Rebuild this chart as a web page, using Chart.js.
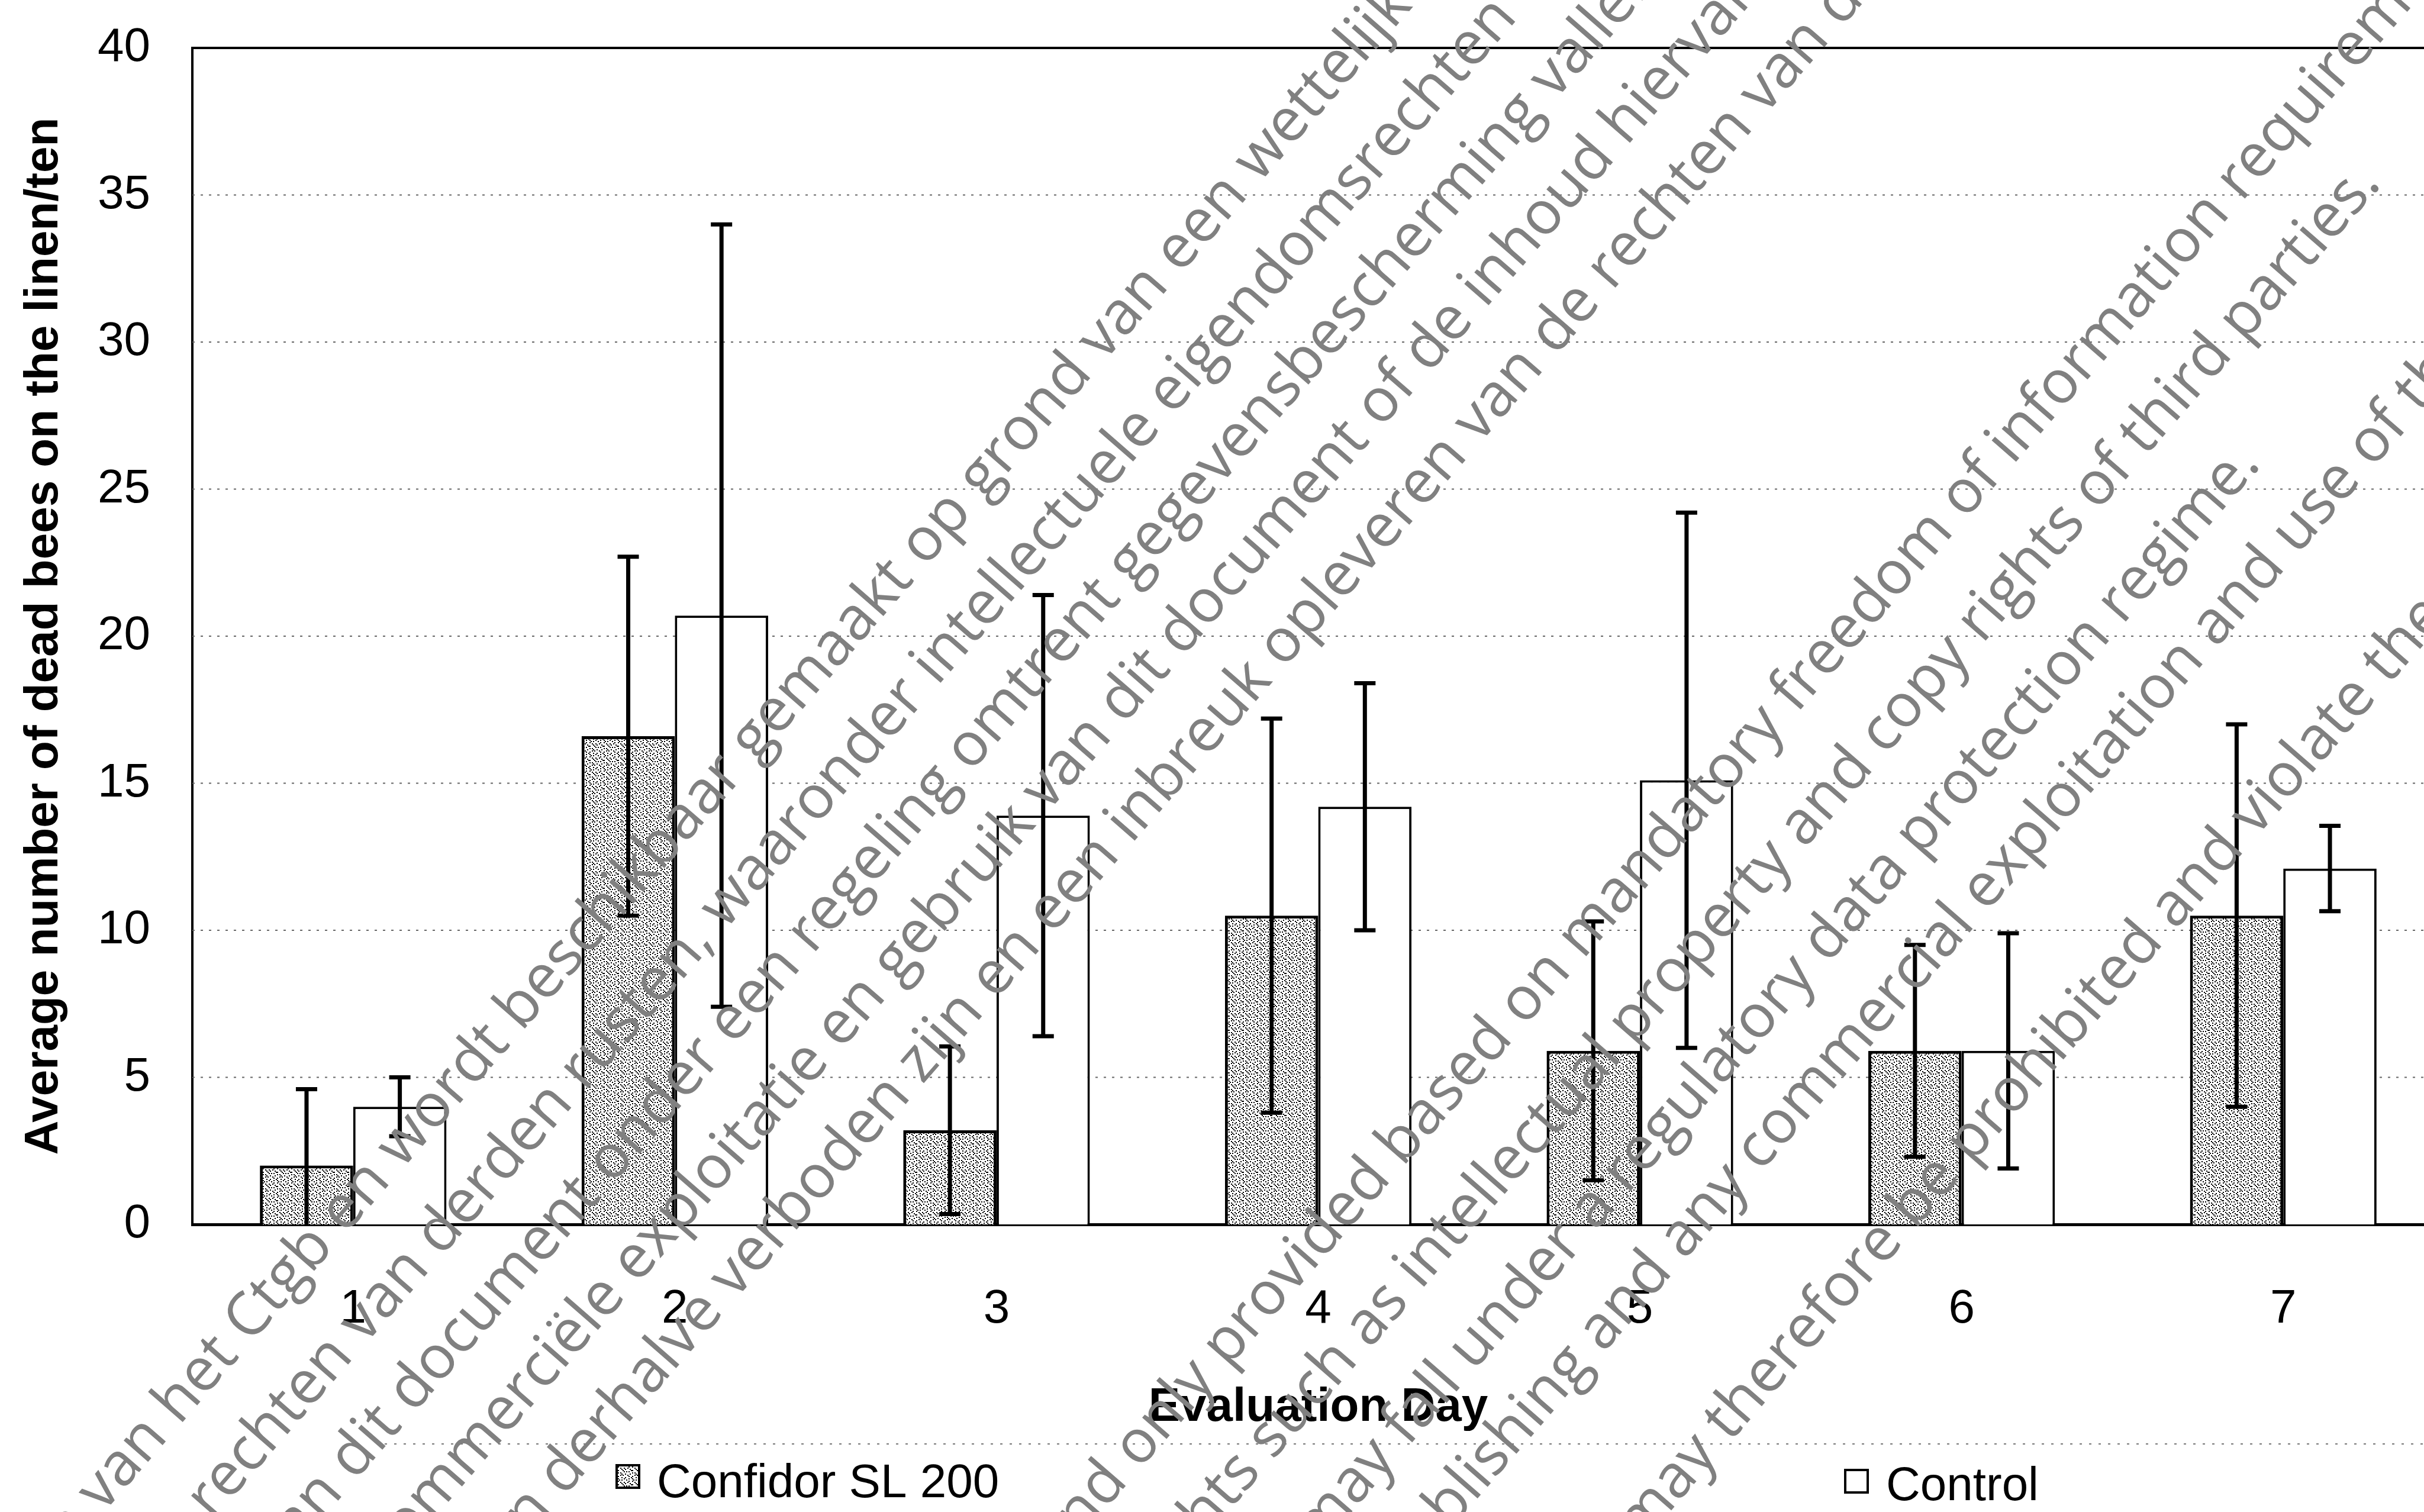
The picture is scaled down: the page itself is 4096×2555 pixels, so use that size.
<!DOCTYPE html>
<html>
<head>
<meta charset="utf-8">
<script src="https://cdn.jsdelivr.net/npm/chart.js@4.4.1/dist/chart.umd.min.js"></script>
<style>
  html, body { margin: 0; padding: 0; background: #fff; overflow: hidden; width: 4096px; height: 2555px; }
  #wrap { position: absolute; left: 0; top: 0; width: 4200px; height: 2555px; }
</style>
</head>
<body>
<div id="wrap"><canvas id="chart" width="4200" height="2555"></canvas></div>
<script>
// data
const days = ["1", "2", "3", "4", "5", "6", "7"];
const confidorMean = [2.0, 16.6, 3.2, 10.5, 5.9, 5.9, 10.5];
const confidorErr = [2.6, 6.1, 2.85, 6.7, 4.4, 3.6, 6.5];
const controlMean = [4.0, 20.7, 13.9, 14.2, 15.1, 5.9, 12.1];
const controlErr = [1.0, 13.3, 7.5, 4.2, 9.1, 4.0, 1.45];
const yTicks = [0, 5, 10, 15, 20, 25, 30, 35, 40];
const seriesNames = ["Confidor SL 200", "Control"];
const xTitle = "Evaluation Day";
const yTitle = "Average number of dead bees on the linen/ten";

// watermark on the scanned page: centre of the named word, in reference pixels
const S = 0.897;
const watermark = [
  { text: "Dit document is eigendom van het Ctgb en wordt beschikbaar gemaakt op grond van een wettelijke verplichting tot openbaarmaking.", word: "grond", x: 1932, y: 803 },
  { text: "Op dit document kunnen rechten van derden rusten, waaronder intellectuele eigendomsrechten en/of auteursrechten.", word: "eigendomsrechten", x: 2510, y: 388 },
  { text: "Daarnaast kan dit document onder een regeling omtrent gegevensbescherming vallen.", word: "gegevensbescherming", x: 2497, y: 638 },
  { text: "Verveelvoudiging, openbaarmaking, commerciële exploitatie en gebruik van dit document of de inhoud hiervan", word: "document of", x: 2425, y: 962 },
  { text: "kunnen derhalve verboden zijn en een inbreuk opleveren van de rechten van de eigenaar.", word: "opleveren", x: 2568, y: 1039 },
  { text: "This document is published and only provided based on mandatory freedom of information requirements.", word: "information", x: 3973, y: 619 },
  { text: "It may be subject to rights such as intellectual property and copy rights of third parties.", word: "third", x: 4100, y: 744 },
  { text: "Furthermore this information may fall under a regulatory data protection regime.", word: "regime.", x: 4105, y: 1006 },
  { text: "Any publishing and any commercial exploitation and use of this document or its contents", word: "use", x: 4364, y: 955 },
  { text: "may therefore be prohibited and violate the rights of its owner.", word: "the rights", x: 4640, y: 1080 }
];

const FONT = "'Liberation Sans', Arial, sans-serif";

function stipple() {
  const rows = [
    "100001000100",
    "000100100001",
    "010000010100",
    "000100100000",
    "001000001001",
    "100010000100",
    "000001100010",
    "010100000001",
    "000000101000",
    "100010000100",
    "001000001010",
    "000100100000"
  ];
  const c = document.createElement("canvas");
  c.width = c.height = 24;
  const g = c.getContext("2d");
  g.fillStyle = "#fff";
  g.fillRect(0, 0, 24, 24);
  g.fillStyle = "#000";
  rows.forEach((r, y) => {
    [...r].forEach((b, x) => { if (b === "1") g.fillRect(x * 2, y * 2, 2, 2); });
  });
  return g.createPattern(c, "repeat");
}

const gridLines = {
  id: "gridLines",
  beforeDatasetsDraw(chart) {
    const { ctx, chartArea, scales: { y } } = chart;
    ctx.save();
    y.ticks.forEach(t => {
      if (t.value <= 0) return;
      const py = y.getPixelForValue(t.value);
      ctx.beginPath();
      if (t.value === y.max) {
        ctx.setLineDash([]);
        ctx.strokeStyle = "#000";
        ctx.lineWidth = 4;
      } else {
        ctx.setLineDash([4, 10]);
        ctx.strokeStyle = "#666";
        ctx.lineWidth = 2;
      }
      ctx.moveTo(chartArea.left, py);
      ctx.lineTo(chartArea.right, py);
      ctx.stroke();
    });
    ctx.restore();
  }
};

const errorBars = {
  id: "errorBars",
  afterDatasetsDraw(chart) {
    const { ctx, scales: { y } } = chart;
    const errs = [confidorErr, controlErr];
    ctx.save();
    ctx.strokeStyle = "#000";
    ctx.lineWidth = 7;
    chart.data.datasets.forEach((ds, di) => {
      chart.getDatasetMeta(di).data.forEach((bar, i) => {
        const m = ds.data[i], e = errs[di][i];
        const top = y.getPixelForValue(m + e);
        const low = m - e;
        const bot = y.getPixelForValue(Math.max(0, low));
        ctx.beginPath();
        ctx.moveTo(bar.x, top);
        ctx.lineTo(bar.x, bot);
        ctx.moveTo(bar.x - 18, top);
        ctx.lineTo(bar.x + 18, top);
        if (low > 0) {
          ctx.moveTo(bar.x - 18, bot);
          ctx.lineTo(bar.x + 18, bot);
        }
        ctx.stroke();
      });
    });
    ctx.restore();
  }
};

const legendAndMarks = {
  id: "legendAndMarks",
  afterDraw(chart) {
    const ctx = chart.ctx;
    ctx.save();
    // faint dotted frame line above the legend
    ctx.setLineDash([4, 12]);
    ctx.strokeStyle = "#777";
    ctx.lineWidth = 2;
    ctx.beginPath();
    ctx.moveTo(650, 2440);
    ctx.lineTo(4200, 2440);
    ctx.stroke();
    ctx.setLineDash([]);

    const items = [
      { box: [1040, 2474], text: [1110, 2508] },
      { box: [3116, 2482], text: [3187, 2513] }
    ];
    chart.data.datasets.forEach((ds, i) => {
      const it = items[i];
      ctx.fillStyle = ds.backgroundColor;
      ctx.fillRect(it.box[0], it.box[1], 42, 42);
      ctx.strokeStyle = "#000";
      ctx.lineWidth = 4;
      ctx.strokeRect(it.box[0] + 2, it.box[1] + 2, 38, 38);
      ctx.fillStyle = "#000";
      ctx.font = "80px " + FONT;
      ctx.textBaseline = "middle";
      ctx.fillText(ds.label, it.text[0], it.text[1]);
    });

    // watermark
    ctx.font = "102px 'Open Sans', sans-serif";
    ctx.fillStyle = "#808080";
    ctx.textBaseline = "middle";
    const ang = -49 * Math.PI / 180;
    watermark.forEach(l => {
      const at = l.text.indexOf(l.word);
      const pre = ctx.measureText(l.text.slice(0, at)).width;
      const half = ctx.measureText(l.word).width / 2;
      ctx.save();
      ctx.translate(l.x * S, l.y * S);
      ctx.rotate(ang);
      ctx.fillText(l.text, -(pre + half), 0);
      ctx.restore();
    });
    ctx.restore();
  }
};

function build() {
  const pattern = stipple();
  new Chart(document.getElementById("chart"), {
    type: "bar",
    data: {
      labels: days,
      datasets: [
        {
          label: seriesNames[0],
          data: confidorMean,
          backgroundColor: pattern,
          borderColor: "#000",
          borderWidth: 5,
          categoryPercentage: 0.58,
          barPercentage: 1.0
        },
        {
          label: seriesNames[1],
          data: controlMean,
          backgroundColor: "#fff",
          borderColor: "#000",
          borderWidth: 4,
          categoryPercentage: 0.58,
          barPercentage: 1.0
        }
      ]
    },
    options: {
      responsive: false,
      animation: false,
      devicePixelRatio: 1,
      layout: { padding: { left: 27, right: 70, top: 81, bottom: 120 } },
      plugins: { legend: { display: false }, tooltip: { enabled: false } },
      scales: {
        x: {
          grid: { display: false, drawTicks: false },
          border: { display: true, color: "#000", width: 5 },
          ticks: { color: "#000", font: { family: FONT, size: 80 }, padding: 96, maxRotation: 0 },
          title: {
            display: true, text: xTitle, color: "#000",
            font: { family: FONT, size: 80, weight: "bold" },
            padding: { top: 75, bottom: 8 }
          },
          afterFit: s => { s.height = 366; s.paddingLeft = 0; s.paddingRight = 0; }
        },
        y: {
          min: 0,
          max: 40,
          afterBuildTicks: s => { s.ticks = yTicks.map(v => ({ value: v })); },
          grid: { display: false, drawTicks: false },
          border: { display: true, color: "#000", width: 4 },
          ticks: { color: "#000", font: { family: FONT, size: 80 }, padding: 71 },
          title: {
            display: true, text: yTitle, color: "#000",
            font: { family: FONT, size: 80, weight: "bold" },
            padding: { top: 0, bottom: 42 }
          },
          afterFit: s => { s.width = 298; s.paddingTop = 0; s.paddingBottom = 0; }
        }
      }
    },
    plugins: [gridLines, errorBars, legendAndMarks]
  });
}

Promise.all([
  document.fonts.load("80px 'Liberation Sans'"),
  document.fonts.load("bold 80px 'Liberation Sans'"),
  document.fonts.load("102px 'Open Sans'")
]).then(build, build);
</script>
</body>
</html>
